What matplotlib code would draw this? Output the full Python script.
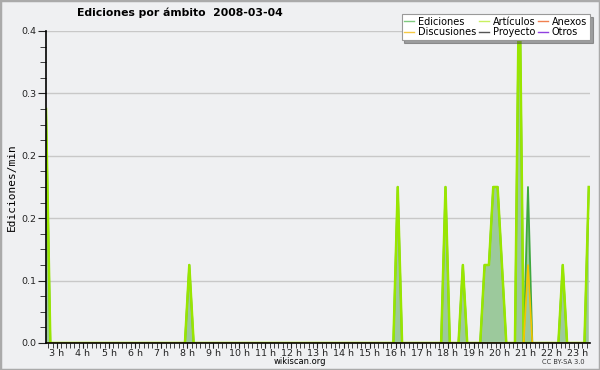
import matplotlib
matplotlib.use("Agg")
import matplotlib.pyplot as plt
from matplotlib.lines import Line2D
from matplotlib.patches import Rectangle
import numpy as np

# intervalos de 10 minutos, horas decimales
inicio = 2.58
n_puntos = 126

# valores (ediciones/min), solo los intervalos no nulos
ed_horas = [2.58, 8.08, 16.08, 17.92, 18.58, 19.42, 19.58, 19.75, 19.92, 20.08, 20.75, 21.08, 22.42, 23.42]
ed_valores = [0.3, 0.1, 0.2, 0.2, 0.1, 0.1, 0.1, 0.2, 0.2, 0.1, 0.5, 0.2, 0.1, 0.2]
art_horas = [2.58, 8.08, 16.08, 17.92, 18.58, 19.42, 19.58, 19.75, 19.92, 20.08, 20.75, 22.42, 23.42]
art_valores = [0.3, 0.1, 0.2, 0.2, 0.1, 0.1, 0.1, 0.2, 0.2, 0.1, 0.5, 0.1, 0.2]
disc_horas = [21.08]
disc_valores = [0.1]

horas_ticks = list(range(3, 24))
etiquetas_x = ["%d h" % h for h in horas_ticks]
titulo = "Ediciones por ámbito  2008-03-04"

leyenda = ["Ediciones", "Discusiones", "Artículos", "Proyecto", "Anexos", "Otros"]
colores_leyenda = ["#7fc97f", "#f5c842", "#c8f060", "#555555", "#f08050", "#9040e0"]


def serie(horas, valores):
    y = np.zeros(n_puntos)
    for h, v in zip(horas, valores):
        y[int(round((h - inicio) * 6))] = v
    return y


x = inicio + np.arange(n_puntos) / 6.0
ed = serie(ed_horas, ed_valores)
art = serie(art_horas, art_valores)
disc = serie(disc_horas, disc_valores)
cero = np.zeros(n_puntos)

fondo = "#eff0f2"
fig = plt.figure(figsize=(6, 3.7), dpi=100, facecolor=fondo)
ax = fig.add_axes([46 / 600, 27 / 370, 544 / 600, 312 / 370], facecolor=fondo)

ax.fill_between(x, 0, ed, color="#9cc99c", lw=0, zorder=2)
ax.plot(x, ed, color="#3fa83f", lw=1.3, zorder=3)
ax.plot(x, art, color="#99e600", lw=1.8, zorder=4)
ax.plot(x, disc, color="#f5c400", lw=1.2, zorder=5)
for c in ["#555555", "#f08050", "#9040e0"]:
    ax.plot(x, cero, color=c, lw=1, zorder=1)

ax.set_xlim(2.58, 23.46)
ax.set_ylim(0, 0.4)

ax.set_yticks(np.arange(0, 0.41, 0.08))
ax.set_yticklabels(["%.1f" % v for v in np.arange(0, 0.41, 0.08)])
ax.set_yticks(np.arange(0, 0.41, 0.02), minor=True)
ax.set_xticks(horas_ticks)
ax.set_xticklabels(etiquetas_x)
ax.set_xticks(np.arange(2.667, 23.46, 1 / 6.0), minor=True)

ax.tick_params(axis="both", which="both", direction="out", labelsize=6.8, colors="#222222", pad=1)
ax.tick_params(axis="y", which="major", length=6)
ax.tick_params(axis="y", which="minor", length=4)
ax.tick_params(axis="x", which="both", length=3.5, pad=0.5)
ax.grid(axis="y", which="major", color="#c8c8c8", lw=1)
ax.set_axisbelow(True)

for s in ["top", "right"]:
    ax.spines[s].set_visible(False)
for s in ["left", "bottom"]:
    ax.spines[s].set_color("black")
    ax.spines[s].set_linewidth(1.2)
    ax.spines[s].set_zorder(6)

ax.set_ylabel("Ediciones/min", family="DejaVu Sans Mono", fontsize=8, labelpad=3)

fig.text(180 / 600, 1 - 13 / 370, titulo, ha="center", va="center", fontsize=7.8, weight="bold")
fig.text(300 / 600, 1 - 362 / 370, "wikiscan.org", ha="center", va="center", fontsize=6)
fig.text(563 / 600, 1 - 362 / 370, "CC BY-SA 3.0", ha="center", va="center", fontsize=4.8, color="#333333")

handles = [Line2D([], [], color=c, lw=1) for c in colores_leyenda]
lg = fig.legend(handles, leyenda, ncol=3, loc="upper right", bbox_to_anchor=(595 / 600, 1 - 9 / 370),
                fontsize=7, frameon=True, fancybox=False, shadow=True, edgecolor="#999999",
                framealpha=1, handlelength=1.0, handletextpad=0.4, columnspacing=0.3,
                labelspacing=0.05, borderpad=0.3)
lg.get_frame().set_linewidth(0.8)

fig.patches.append(Rectangle((0, 0), 1, 1, transform=fig.transFigure, fill=False,
                             edgecolor="#aaaaaa", lw=2.5))

fig.savefig("out.png", dpi=100, facecolor=fondo)
